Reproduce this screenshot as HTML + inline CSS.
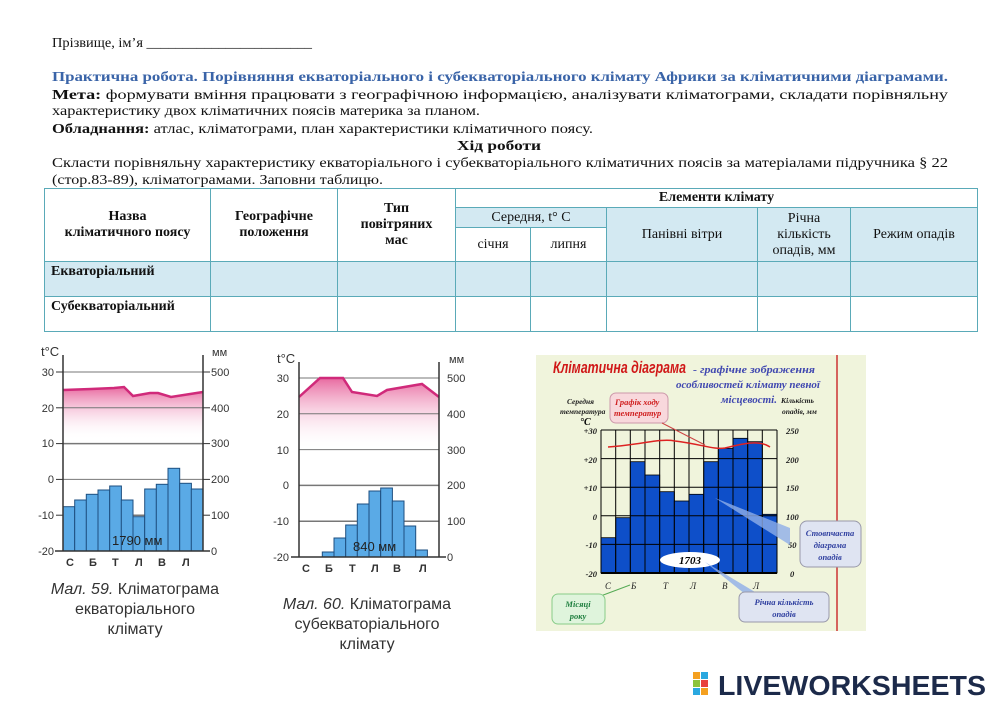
<!DOCTYPE html>
<html><head><meta charset="utf-8"><style>
body{margin:0;width:1000px;height:707px;background:#fff;position:relative;overflow:hidden;font-family:"Liberation Serif","DejaVu Serif",serif;color:#111}
.c{position:absolute;box-sizing:border-box;border:1px solid #5aaab8;font-size:14px;display:flex;align-items:center;justify-content:center;text-align:center;line-height:16px}
.b{font-weight:bold}
.bl{background:#d3e9f2}
.cap{position:absolute;font-family:"Liberation Sans",sans-serif;font-size:16px;color:#333;text-align:center;line-height:20px}
</style></head><body>
<svg style="position:absolute;left:0;top:0" width="1000" height="190" font-family="Liberation Serif,serif" font-size="14" fill="#111">
<text x="52" y="47" textLength="260" lengthAdjust="spacingAndGlyphs">Прізвище, ім’я _______________________</text>
<text x="52" y="81" textLength="896" lengthAdjust="spacingAndGlyphs" font-weight="bold" fill="#3a64a8">Практична робота. Порівняння екваторіального і субекваторіального клімату Африки за кліматичними діаграмами.</text>
<text x="52" y="99" textLength="896" lengthAdjust="spacingAndGlyphs"><tspan font-weight="bold">Мета:</tspan>   формувати   вміння   працювати   з   географічною   інформацією,   аналізувати   кліматограми,   складати   порівняльну</text>
<text x="52" y="115" textLength="428" lengthAdjust="spacingAndGlyphs">характеристику двох кліматичних поясів материка за планом.</text>
<text x="52" y="133" textLength="541" lengthAdjust="spacingAndGlyphs"><tspan font-weight="bold">Обладнання:</tspan> атлас, кліматограми, план характеристики кліматичного поясу.</text>
<text x="457" y="150" textLength="84" lengthAdjust="spacingAndGlyphs" font-weight="bold">Хід роботи</text>
<text x="52" y="167" textLength="896" lengthAdjust="spacingAndGlyphs">Скласти порівняльну характеристику екваторіального і субекваторіального кліматичних поясів за матеріалами підручника § 22</text>
<text x="52" y="184" textLength="331" lengthAdjust="spacingAndGlyphs">(стор.83-89), кліматограмами. Заповни таблицю.</text>
</svg>

<div class="c b" style="left:44px;top:188px;width:167px;height:74px">Назва<br>кліматичного поясу</div>
<div class="c b" style="left:210px;top:188px;width:128px;height:74px">Географічне<br>положення</div>
<div class="c b" style="left:337px;top:188px;width:119px;height:74px">Тип<br>повітряних<br>мас</div>
<div class="c b" style="left:455px;top:188px;width:523px;height:20px">Елементи клімату</div>
<div class="c bl" style="left:455px;top:207px;width:152px;height:21px">Середня, t° C</div>
<div class="c" style="left:455px;top:227px;width:76px;height:35px">січня</div>
<div class="c" style="left:530px;top:227px;width:77px;height:35px">липня</div>
<div class="c bl" style="left:606px;top:207px;width:152px;height:55px">Панівні вітри</div>
<div class="c bl" style="left:757px;top:207px;width:94px;height:55px">Річна<br>кількість<br>опадів, мм</div>
<div class="c bl" style="left:850px;top:207px;width:128px;height:55px">Режим опадів</div>
<div class="c bl b" style="left:44px;top:261px;width:167px;height:36px;justify-content:flex-start;align-items:flex-start;padding:2px 6px">Екваторіальний</div>
<div class="c bl" style="left:210px;top:261px;width:128px;height:36px"></div>
<div class="c bl" style="left:337px;top:261px;width:119px;height:36px"></div>
<div class="c bl" style="left:455px;top:261px;width:76px;height:36px"></div>
<div class="c bl" style="left:530px;top:261px;width:77px;height:36px"></div>
<div class="c bl" style="left:606px;top:261px;width:152px;height:36px"></div>
<div class="c bl" style="left:757px;top:261px;width:94px;height:36px"></div>
<div class="c bl" style="left:850px;top:261px;width:128px;height:36px"></div>
<div class="c b" style="left:44px;top:296px;width:167px;height:36px;justify-content:flex-start;align-items:flex-start;padding:2px 6px">Субекваторіальний</div>
<div class="c" style="left:210px;top:296px;width:128px;height:36px"></div>
<div class="c" style="left:337px;top:296px;width:119px;height:36px"></div>
<div class="c" style="left:455px;top:296px;width:76px;height:36px"></div>
<div class="c" style="left:530px;top:296px;width:77px;height:36px"></div>
<div class="c" style="left:606px;top:296px;width:152px;height:36px"></div>
<div class="c" style="left:757px;top:296px;width:94px;height:36px"></div>
<div class="c" style="left:850px;top:296px;width:128px;height:36px"></div>

<svg style="position:absolute;left:0;top:0" width="1000" height="707" font-family="Liberation Sans,sans-serif">
<defs>
<linearGradient id="pg" x1="0" y1="0" x2="0" y2="1"><stop offset="0" stop-color="#e86aa0"/><stop offset="1" stop-color="#fff" stop-opacity="0"/></linearGradient>
</defs>
<g>
<path d="M63,390 L91,389 L114,388 L124,387 L133,396 L150,393 L158,393 L171,397 L203,392 L203,440 L63,440Z" fill="url(#pg)"/>
<g stroke="#777" stroke-width="1">
<line x1="63" y1="372" x2="203" y2="372"/><line x1="63" y1="407.8" x2="203" y2="407.8"/><line x1="63" y1="443.6" x2="203" y2="443.6" stroke-width="1.5"/><line x1="63" y1="479.4" x2="203" y2="479.4"/><line x1="63" y1="515.2" x2="203" y2="515.2" stroke-width="1.5"/>
</g>
<g fill="#5aaae6" stroke="#1d4f80" stroke-width="1">
<rect x="63" y="506.7" width="11.7" height="44.3"/><rect x="74.7" y="500" width="11.7" height="51"/><rect x="86.3" y="494.3" width="11.7" height="56.7"/><rect x="98" y="490" width="11.7" height="61"/><rect x="109.7" y="486" width="11.7" height="65"/><rect x="121.3" y="500" width="11.7" height="51"/><rect x="133" y="516.7" width="11.7" height="34.3"/><rect x="144.7" y="489" width="11.7" height="62"/><rect x="156.3" y="484.3" width="11.7" height="66.7"/><rect x="168" y="468.3" width="11.7" height="82.7"/><rect x="179.7" y="483.3" width="11.7" height="67.7"/><rect x="191.3" y="489" width="11.7" height="62"/>
</g>
<polyline points="63,390 91,389 114,388 124,387 133,396 150,393 158,393 171,397 203,392" fill="none" stroke="#d02a7a" stroke-width="2.5"/>
<g stroke="#333" stroke-width="1.5"><line x1="63" y1="355" x2="63" y2="551"/><line x1="203" y1="355" x2="203" y2="551"/><line x1="55" y1="551" x2="210" y2="551"/></g>
<g stroke="#333"><line x1="56" y1="372" x2="63" y2="372"/><line x1="56" y1="407.8" x2="63" y2="407.8"/><line x1="56" y1="443.6" x2="63" y2="443.6"/><line x1="56" y1="479.4" x2="63" y2="479.4"/><line x1="56" y1="515.2" x2="63" y2="515.2"/><line x1="203" y1="372" x2="210" y2="372"/><line x1="203" y1="407.8" x2="210" y2="407.8"/><line x1="203" y1="443.6" x2="210" y2="443.6"/><line x1="203" y1="479.4" x2="210" y2="479.4"/><line x1="203" y1="515.2" x2="210" y2="515.2"/></g>
<g font-size="11" fill="#333" text-anchor="end"><text x="54" y="376">30</text><text x="54" y="412">20</text><text x="54" y="447">10</text><text x="54" y="483">0</text><text x="54" y="519">-10</text><text x="54" y="555">-20</text></g>
<g font-size="11" fill="#333"><text x="211" y="376">500</text><text x="211" y="412">400</text><text x="211" y="447">300</text><text x="211" y="483">200</text><text x="211" y="519">100</text><text x="211" y="555">0</text></g>
<text x="41" y="356" font-size="13" fill="#333">t°C</text><text x="212" y="356" font-size="11" fill="#333">мм</text>
<text x="112" y="545" font-size="13" fill="#222">1790 мм</text>
<g font-size="11" font-weight="bold" fill="#333"><text x="66" y="566">С</text><text x="89" y="566">Б</text><text x="112" y="566">Т</text><text x="135" y="566">Л</text><text x="158" y="566">В</text><text x="182" y="566">Л</text></g>
</g>
<g>
<path d="M299,397 L320,378 L343,378 L352,392 L377,396 L387,390 L422,384 L439,397 L439,450 L299,450Z" fill="url(#pg)"/>
<g stroke="#777"><line x1="299" y1="378" x2="439" y2="378"/><line x1="299" y1="413.8" x2="439" y2="413.8"/><line x1="299" y1="449.6" x2="439" y2="449.6"/><line x1="299" y1="485.4" x2="439" y2="485.4" stroke-width="1.5"/><line x1="299" y1="521.2" x2="439" y2="521.2" stroke-width="1.5"/></g>
<g fill="#5aaae6" stroke="#1d4f80">
<rect x="322.3" y="552" width="11.7" height="5"/><rect x="334" y="538" width="11.7" height="19"/><rect x="345.7" y="525" width="11.7" height="32"/><rect x="357.3" y="504" width="11.7" height="53"/><rect x="369" y="491" width="11.7" height="66"/><rect x="380.7" y="488" width="11.7" height="69"/><rect x="392.3" y="501" width="11.7" height="56"/><rect x="404" y="526" width="11.7" height="31"/><rect x="415.7" y="550" width="11.7" height="7"/>
</g>
<polyline points="299,397 320,378 343,378 352,392 377,396 387,390 422,384 439,397" fill="none" stroke="#d02a7a" stroke-width="2.5"/>
<g stroke="#333" stroke-width="1.5"><line x1="299" y1="362" x2="299" y2="557"/><line x1="439" y1="362" x2="439" y2="557"/><line x1="291" y1="557" x2="446" y2="557"/></g>
<g font-size="11" fill="#333" text-anchor="end"><text x="289" y="382">30</text><text x="289" y="418">20</text><text x="289" y="454">10</text><text x="289" y="489">0</text><text x="289" y="525">-10</text><text x="289" y="561">-20</text></g>
<g font-size="11" fill="#333"><text x="447" y="382">500</text><text x="447" y="418">400</text><text x="447" y="454">300</text><text x="447" y="489">200</text><text x="447" y="525">100</text><text x="447" y="561">0</text></g>
<text x="277" y="363" font-size="13" fill="#333">t°C</text><text x="449" y="363" font-size="11" fill="#333">мм</text>
<text x="353" y="551" font-size="13" fill="#222">840 мм</text>
<g font-size="11" font-weight="bold" fill="#333"><text x="302" y="572">С</text><text x="325" y="572">Б</text><text x="349" y="572">Т</text><text x="371" y="572">Л</text><text x="393" y="572">В</text><text x="419" y="572">Л</text></g>
</g>
<g font-family="Liberation Serif,serif" font-style="italic">
<rect x="536" y="355" width="330" height="276" fill="#f0f4dc"/>
<line x1="837" y1="355" x2="837" y2="631" stroke="#c33" stroke-width="1.5"/>
<g fill="#0e4fc9" stroke="#000" stroke-width="0.8">
<rect x="601" y="537.7" width="14.7" height="35.3"/><rect x="615.7" y="517.7" width="14.7" height="55.3"/><rect x="630.3" y="461.7" width="14.7" height="111.3"/><rect x="645" y="475" width="14.7" height="98"/><rect x="659.7" y="491.7" width="14.7" height="81.3"/><rect x="674.3" y="501" width="14.7" height="72"/><rect x="689" y="494.3" width="14.7" height="78.7"/><rect x="703.7" y="461.7" width="14.7" height="111.3"/><rect x="718.3" y="448.3" width="14.7" height="124.7"/><rect x="733" y="438.3" width="14.7" height="134.7"/><rect x="747.7" y="441.7" width="14.7" height="131.3"/><rect x="762.3" y="514.3" width="14.7" height="58.7"/>
</g>
<g stroke="#000" stroke-width="1"><line x1="601" y1="430" x2="777" y2="430"/><line x1="601" y1="458.6" x2="777" y2="458.6"/><line x1="601" y1="487.2" x2="777" y2="487.2"/><line x1="601" y1="515.8" x2="777" y2="515.8"/><line x1="601" y1="544.4" x2="777" y2="544.4"/><line x1="601" y1="573" x2="777" y2="573" stroke-width="2"/>
<path d="M601,430V573M615.7,430V573M630.3,430V573M645,430V573M659.7,430V573M674.3,430V573M689,430V573M703.7,430V573M718.3,430V573M733,430V573M747.7,430V573M762.3,430V573M777,430V573"/></g>
<path d="M608,447 C640,445 660,438 675,441 C700,444 715,450 725,448 C745,443 760,440 770,447" fill="none" stroke="#d22" stroke-width="1.5"/>
<text x="553" y="373" font-family="Liberation Sans,sans-serif" font-size="17" font-weight="bold" fill="#d01818" textLength="133" lengthAdjust="spacingAndGlyphs">Кліматична діаграма</text>
<text x="693" y="373" font-size="11" font-weight="bold" fill="#4048b0" textLength="122" lengthAdjust="spacingAndGlyphs">- графічне зображення</text>
<text x="676" y="388" font-size="11" font-weight="bold" fill="#4048b0" textLength="144" lengthAdjust="spacingAndGlyphs">особливостей клімату певної</text>
<text x="721" y="403" font-size="11" font-weight="bold" fill="#4048b0">місцевості.</text>
<g font-size="7.5" font-weight="bold" fill="#222"><text x="567" y="404">Середня</text><text x="560" y="414">температура</text><text x="781" y="403">Кількість</text><text x="782" y="414">опадів, мм</text></g>
<text x="580" y="425" font-size="10" font-weight="bold">°C</text>
<rect x="610" y="393" width="58" height="30" rx="6" fill="#f8d8dc" stroke="#c9a"/>
<text x="615" y="405" font-size="8.5" font-weight="bold" fill="#d02020">Графік ходу</text><text x="614" y="416" font-size="8.5" font-weight="bold" fill="#d02020">температур</text>
<line x1="662" y1="423" x2="705" y2="445" stroke="#c44"/>
<g font-size="8.5" font-weight="bold" fill="#222" text-anchor="end"><text x="597" y="434">+30</text><text x="597" y="463">+20</text><text x="597" y="491">+10</text><text x="597" y="520">0</text><text x="597" y="548">-10</text><text x="597" y="577">-20</text></g>
<g font-size="8.5" font-weight="bold" fill="#222"><text x="786" y="434">250</text><text x="786" y="463">200</text><text x="786" y="491">150</text><text x="786" y="520">100</text><text x="788" y="548">50</text><text x="790" y="577">0</text></g>
<g font-size="9" fill="#222"><text x="605" y="589">С</text><text x="631" y="589">Б</text><text x="663" y="589">Т</text><text x="690" y="589">Л</text><text x="722" y="589">В</text><text x="753" y="589">Л</text></g>
<polygon points="715,498 790,528 790,545" fill="#8eaee8" opacity="0.8"/>
<rect x="800" y="521" width="61" height="46" rx="7" fill="#dfe4f2" stroke="#99a"/>
<text x="830" y="536" font-size="8.5" font-weight="bold" fill="#3040a0" text-anchor="middle">Стовпчаста</text><text x="830" y="548" font-size="8.5" font-weight="bold" fill="#3040a0" text-anchor="middle">діаграма</text><text x="830" y="560" font-size="8.5" font-weight="bold" fill="#3040a0" text-anchor="middle">опадів</text>
<ellipse cx="690" cy="560" rx="30" ry="8" fill="#fff"/>
<text x="690" y="564" font-size="11" font-weight="bold" text-anchor="middle">1703</text>
<polygon points="705,562 760,595 750,598" fill="#8eaee8" opacity="0.8"/>
<rect x="739" y="592" width="90" height="30" rx="6" fill="#dfe4f2" stroke="#99a"/>
<text x="784" y="605" font-size="8.5" font-weight="bold" fill="#3040a0" text-anchor="middle">Річна кількість</text><text x="784" y="617" font-size="8.5" font-weight="bold" fill="#3040a0" text-anchor="middle">опадів</text>
<line x1="630" y1="585" x2="590" y2="600" stroke="#5a5"/>
<rect x="552" y="594" width="53" height="30" rx="6" fill="#dff4dc" stroke="#8c8"/>
<text x="578" y="607" font-size="8.5" font-weight="bold" fill="#208040" text-anchor="middle">Місяці</text><text x="578" y="619" font-size="8.5" font-weight="bold" fill="#208040" text-anchor="middle">року</text>
</g>
<g>
<rect x="693" y="672" width="7" height="7" fill="#f4a020"/><rect x="701" y="672" width="7" height="7" fill="#2aa8e0"/><rect x="693" y="680" width="7" height="7" fill="#8cc43c"/><rect x="701" y="680" width="7" height="7" fill="#e8403c"/><rect x="693" y="688" width="7" height="7" fill="#2aa8e0"/><rect x="701" y="688" width="7" height="7" fill="#f4a020"/>
<text x="718" y="695" font-family="Liberation Sans,sans-serif" font-size="28" font-weight="bold" fill="#1c2a4a" textLength="268" lengthAdjust="spacingAndGlyphs">LIVEWORKSHEETS</text>
</g>
</svg>
<div class="cap" style="left:30px;top:580px;width:210px"><i>Мал. 59.</i> Кліматограма<br>екваторіального<br>клімату</div>
<div class="cap" style="left:262px;top:595px;width:210px"><i>Мал. 60.</i> Кліматограма<br>субекваторіального<br>клімату</div>
</body></html>
